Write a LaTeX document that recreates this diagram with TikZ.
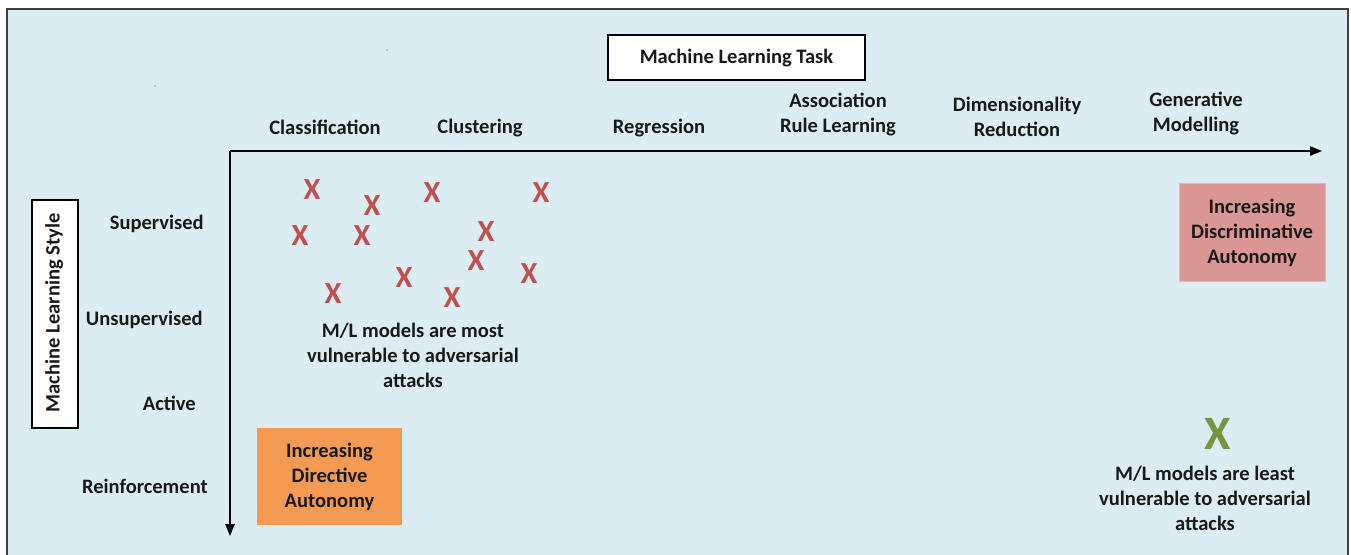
\documentclass[tikz,border=0pt]{standalone}
\usepackage{fontspec}
\setmainfont{Carlito}
\usetikzlibrary{arrows.meta}
\definecolor{bgblue}{HTML}{DBEDF3}
\definecolor{xred}{HTML}{C0504D}
\definecolor{xgreen}{HTML}{77933C}
\definecolor{orangebox}{HTML}{F59A52}
\definecolor{pinkbox}{HTML}{DA9694}
\begin{document}
\begin{tikzpicture}[x=0.75pt,y=-0.75pt,
  lbl/.style={font=\bfseries\fontsize{15.4}{18.75}\selectfont, align=center, inner sep=0pt, text=black!90, yshift=-0.6pt},
  titlebox/.style={draw=black, fill=white, line width=0.8pt, inner sep=0pt},
  redx/.style={font=\bfseries\fontsize{23}{23}\selectfont, text=xred, inner sep=0pt},
  axis/.style={line width=1pt, -{Triangle[length=9pt,width=7pt]}}]
\useasboundingbox (0,0) rectangle (1351,554);
\fill[white] (0,0) rectangle (1351,554);
\draw[fill=bgblue, draw=black!75, line width=1pt] (7,9) rectangle (1348,570);
% title boxes
\node[titlebox, minimum width=257*0.75pt, minimum height=45*0.75pt] (task) at (736.5,57.5) {};
\node[lbl] (tasklbl) at (task.center) {Machine Learning Task};
\node[titlebox, minimum width=46*0.75pt, minimum height=228*0.75pt] (style) at (55,314) {};
\node[lbl, rotate=90, yshift=0.6pt] (stylelbl) at ([yshift=1.5pt]style.center) {Machine Learning Style};
% stray dots
\fill[black!70] (155,86) circle (0.6);
\fill[black!70] (387,50) circle (0.6);
% columns
\node[lbl] (c1) at (325,127) {Classification};
\node[lbl] (c2) at (480,127) {Clustering};
\node[lbl] (c3) at (659,127) {Regression};
\node[lbl] (c4) at (838,114) {Association\\Rule Learning};
\node[lbl] (c5) at (1017,116) {Dimensionality\\Reduction};
\node[lbl] (c6) at (1196,113) {Generative\\Modelling};
% rows
\node[lbl, anchor=east] (r1) at (204,223) {Supervised};
\node[lbl, anchor=east] (r2) at (203,319) {Unsupervised};
\node[lbl, anchor=east] (r3) at (196,403) {Active};
\node[lbl, anchor=east] (r4) at (208,486) {Reinforcement};
% axes
\coordinate (o) at (230,151);
\coordinate (xe) at (1322,151);
\coordinate (ye) at (230,536);
\draw[axis] (o) -- (xe);
\draw[axis] (o) -- (ye);
% red x
\foreach \p/\q [count=\i] in {312/190, 372/206, 432/193, 541/193, 300/236, 362/236, 486/232, 476/261, 404/278, 529/274, 333/294, 452/298}
  \node[redx] (x\i) at (\p,\q) {X};
\node[lbl] (most) at (413,355) {M/L models are most\\vulnerable to adversarial\\attacks};
% boxes
\node[fill=orangebox, minimum width=145*0.75pt, minimum height=97*0.75pt, inner sep=0pt] (dir) at (329.5,476.5) {};
\node[lbl] (dirlbl) at (dir.center) {Increasing\\Directive\\Autonomy};
\node[fill=pinkbox, draw=pinkbox!70!white, minimum width=146*0.75pt, minimum height=98*0.75pt, inner sep=0pt] (disc) at (1252,232) {};
\node[lbl] (disclbl) at (disc.center) {Increasing\\Discriminative\\Autonomy};
% green x
\node[font=\bfseries\fontsize{36}{36}\selectfont, text=xgreen, inner sep=0pt] (gx) at (1218,434) {X};
\node[lbl] (least) at (1205,498) {M/L models are least\\vulnerable to adversarial\\attacks};
\end{tikzpicture}
\end{document}
